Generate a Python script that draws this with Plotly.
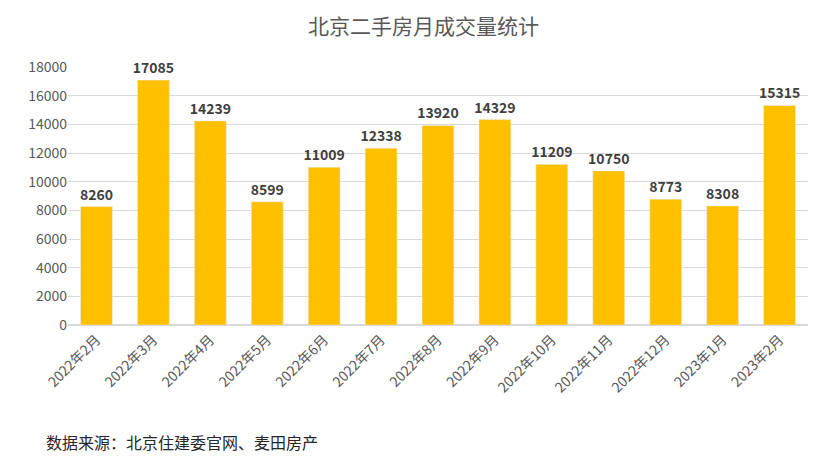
import plotly.graph_objects as go

months = ["2022年2月","2022年3月","2022年4月","2022年5月","2022年6月","2022年7月","2022年8月",
          "2022年9月","2022年10月","2022年11月","2022年12月","2023年1月","2023年2月"]
volumes = [8260,17085,14239,8599,11009,12338,13920,14329,11209,10750,8773,8308,15315]

fig = go.Figure(go.Bar(
    x=months, y=volumes, marker_color="#FFC000", width=0.56,
    text=[str(v) for v in volumes], textposition="outside", cliponaxis=False,
    textangle=0, constraintext="none",
    textfont=dict(family="Noto Sans CJK SC", size=14, color="#404040", weight="bold"),
))
fig.update_layout(
    width=831, height=471, margin=dict(l=60, r=31, t=59, b=154),
    paper_bgcolor="white", plot_bgcolor="white",
    font=dict(family="Noto Sans CJK SC", color="#595959"),
    title=dict(text="北京二手房月成交量统计", x=0.5, xanchor="center", y=0.975,
               font=dict(size=21, color="#595959")),
    yaxis=dict(range=[0, 18000], dtick=2000, tickformat="d", gridcolor="#D9D9D9",
               tickfont=dict(size=14), automargin=False,
               zeroline=True, zerolinecolor="#D9D9D9", ticks=""),
    xaxis=dict(tickangle=-45, tickfont=dict(size=14), showline=True, linecolor="#D9D9D9",
               automargin=False),
    showlegend=False,
)
fig.add_annotation(text="数据来源：北京住建委官网、麦田房产", xref="paper", yref="paper",
                   x=-0.033, y=-0.455, xanchor="left", yanchor="middle", showarrow=False,
                   font=dict(size=16, color="#262626"))
fig.write_html("out.html")
